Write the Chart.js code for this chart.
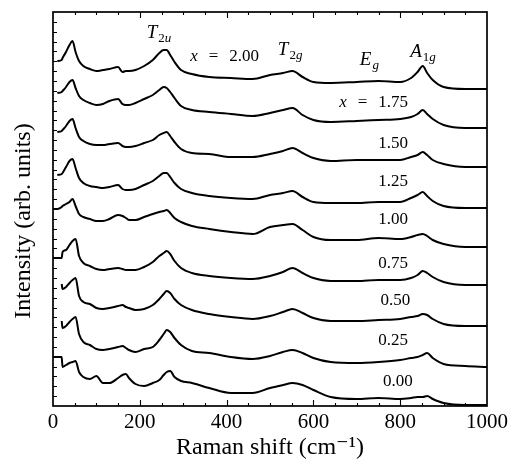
<!DOCTYPE html>
<html><head><meta charset="utf-8">
<script src="https://cdn.jsdelivr.net/npm/chart.js@4.4.1/dist/chart.umd.min.js"></script>
<style>html,body{margin:0;padding:0;background:#fff}canvas{display:block}</style>
</head><body>
<canvas id="c" width="513" height="464"></canvas>
<script>
// Raman shift grid (cm^-1)
const ramanShift = [0,10,20,22,30,38,45,52,60,70,85,100,115,130,150,160,168,175,190,210,230,245,255,262,270,280,295,320,360,410,460,500,530,552,575,600,640,700,750,800,825,840,852,862,875,900,950,1000];
// Offset intensities (arb. units) for each composition x
const int200 = [null,345,346,348,354,361,365,354,345,340,337,335,336,337,339,334,335,335,336,340,346,353,356,356,351,344,336,332,329,328,327,331,333,335,329,324,323,324,325,324,328,334,340,333,326,319,317,317];
const int175 = [null,313,314,315,319,324,326,318,310,306,303,301,302,305,307,302,301,301,303,307,311,316,319,318,314,308,300,296,294,292,290,293,296,298,291,286,284,285,286,287,289,292,296,292,287,281,278,278];
const int150 = [null,274,275,276,280,285,287,278,269,265,262,261,261,262,263,260,259,259,260,263,266,271,273,274,270,264,257,253,252,249,249,252,255,258,253,248,245,246,246,246,249,251,254,251,246,242,239,239];
const int125 = [null,231,232,233,239,245,247,238,228,223,220,219,218,219,221,217,216,216,217,221,225,230,233,233,229,223,217,213,210,208,207,211,213,215,209,204,203,203,204,204,208,211,214,210,205,200,198,198];
const int100 = [197,197,199,200,202,204,207,200,192,189,187,185,185,187,191,190,188,186,186,189,192,194,195,196,193,188,184,180,177,174,172,179,181,182,176,169,166,166,168,167,169,171,172,170,166,162,159,159];
const int075 = [148,148,148,154,156,161,165,167,150,143,140,137,136,137,138,137,136,136,136,139,144,150,153,155,152,145,138,133,130,128,127,130,134,138,133,128,125,125,126,126,128,131,135,133,129,124,121,121];
const int050 = [null,null,122,117,119,123,126,128,110,104,102,98,97,98,100,101,99,98,96,97,101,107,112,115,113,107,101,96,92,89,87,90,94,97,93,88,85,85,86,87,89,90,92,91,87,82,80,80];
const int025 = [null,null,85,78,80,84,87,89,72,64,61,57,56,57,59,60,58,56,54,57,59,66,72,76,74,68,61,55,53,49,47,50,54,56,53,48,44,43,44,46,48,49,51,53,48,42,40,39];
const int000 = [49,49,49,39,41,43,44,45,34,29,27,30,23,23,28,31,32,28,22,20,23,26,31,34,35,29,25,23,18,13,13,18,21,23,21,16,9,7,8,7,8,9,9,10,7,3,1,1];
const compositions = ['2.00','1.75','1.50','1.25','1.00','0.75','0.50','0.25','0.00'];
const xTickLabels = [0,200,400,600,800,1000];
// Mode labels: name parts and anchor in data units (cm^-1, intensity)
const modeNames = [['T','2u'],['T','2g'],['E','g'],['A','1g']];
const modeAnchorX = [216,518,707,823];
const modeAnchorY = [368,351,341,349];
// composition label anchors (right edge, baseline) in data units
const compAnchorX = [316,818,818,818,818,818,823,818,829];
const compAnchorY = [345,299,258,220,182,138,101,61,20];

const series = [int200,int175,int150,int125,int100,int075,int050,int025,int000];
const SERIF = '"Liberation Serif", "DejaVu Serif", serif';

const datasets = series.map((s,k)=>({
  label: 'x = ' + compositions[k],
  data: ramanShift.map((x,i)=>({x:x, y:s[i]})),
  borderColor:'#000', borderWidth:2, pointRadius:0, fill:false,
  cubicInterpolationMode:'monotone'
}));

function drawRich(ctx, parts, x, y){
  let cx = x;
  for (const p of parts){
    ctx.font = p.font;
    ctx.fillText(p.t, cx, y + (p.dy||0));
    cx += ctx.measureText(p.t).width + (p.gap||0);
  }
}
function richWidth(ctx, parts){
  let w=0; for (const p of parts){ ctx.font=p.font; w += ctx.measureText(p.t).width + (p.gap||0);} return w;
}
const F = 17, FM = 19, FS = 13;
const it = sz => 'italic ' + sz + 'px ' + SERIF;
const up = sz => sz + 'px ' + SERIF;

const framePlugin = {
  id:'frame',
  afterDatasetsDraw(chart){
    const {ctx, chartArea:{left,right,top,bottom}, scales:{x,y}} = chart;
    ctx.save();
    ctx.strokeStyle='#000'; ctx.lineWidth=1.7;
    ctx.strokeRect(left,top,right-left,bottom-top);
    ctx.lineWidth=1.1;
    ctx.beginPath();
    for (let v=50; v<1000; v+=50){
      const px = Math.round(x.getPixelForValue(v))+0.5;
      const len = (v%200===0)?6:3;
      ctx.moveTo(px,bottom); ctx.lineTo(px,bottom-len);
      ctx.moveTo(px,top); ctx.lineTo(px,top+len);
    }
    for (let k=1;k<40;k++){
      const py = Math.round(y.getPixelForValue(k*394/40))+0.5;
      ctx.moveTo(left,py); ctx.lineTo(left+4,py);
    }
    ctx.stroke();
    // mode labels
    ctx.fillStyle='#000'; ctx.textBaseline='alphabetic'; ctx.textAlign='left';
    modeNames.forEach((m,i)=>{
      const parts = [{t:m[0], font:it(FM), gap:1}];
      for (const ch of m[1]){
        parts.push({t:ch, font: /[a-z]/.test(ch)? it(FS): up(FS), dy:4});
      }
      drawRich(ctx, parts, x.getPixelForValue(modeAnchorX[i]), y.getPixelForValue(modeAnchorY[i]));
    });
    // composition labels
    compositions.forEach((c,i)=>{
      const parts = (i<2) ? [{t:'x',font:it(F),gap:11},{t:'=',font:up(F),gap:11},{t:c,font:up(F)}] : [{t:c,font:up(F)}];
      const ax = x.getPixelForValue(compAnchorX[i]);
      const ay = y.getPixelForValue(compAnchorY[i]);
      const w = richWidth(ctx, parts);
      drawRich(ctx, parts, i===0 ? ax : ax - w, ay);
    });
    ctx.restore();
  }
};

new Chart(document.getElementById('c'), {
  type:'line',
  data:{datasets},
  plugins:[framePlugin],
  options:{
    responsive:false, animation:false, events:[],
    layout:{padding:{left:0,right:26,top:12,bottom:0}},
    plugins:{legend:{display:false}, tooltip:{enabled:false}},
    scales:{
      x:{type:'linear', min:0, max:1000,
        afterBuildTicks: s => { s.ticks = xTickLabels.map(v=>({value:v})); },
        afterFit: s => { s.height = 58; },
        grid:{display:false}, border:{display:false},
        ticks:{color:'#000', padding:-4, font:{family:SERIF,size:21}, callback:v=>String(v), maxRotation:0},
        title:{display:true, text:'Raman shift (cm\u207B\u00B9)', color:'#000', font:{family:SERIF,size:24}, padding:{top:0,bottom:2}}
      },
      y:{min:0, max:394,
        afterFit: s => { s.width = 53; },
        grid:{display:false}, border:{display:false},
        ticks:{display:false},
        title:{display:true, text:'Intensity (arb. units)    ', color:'#000', font:{family:SERIF,size:24}, padding:{top:9,bottom:0}}
      }
    }
  }
});
</script>
</body></html>
